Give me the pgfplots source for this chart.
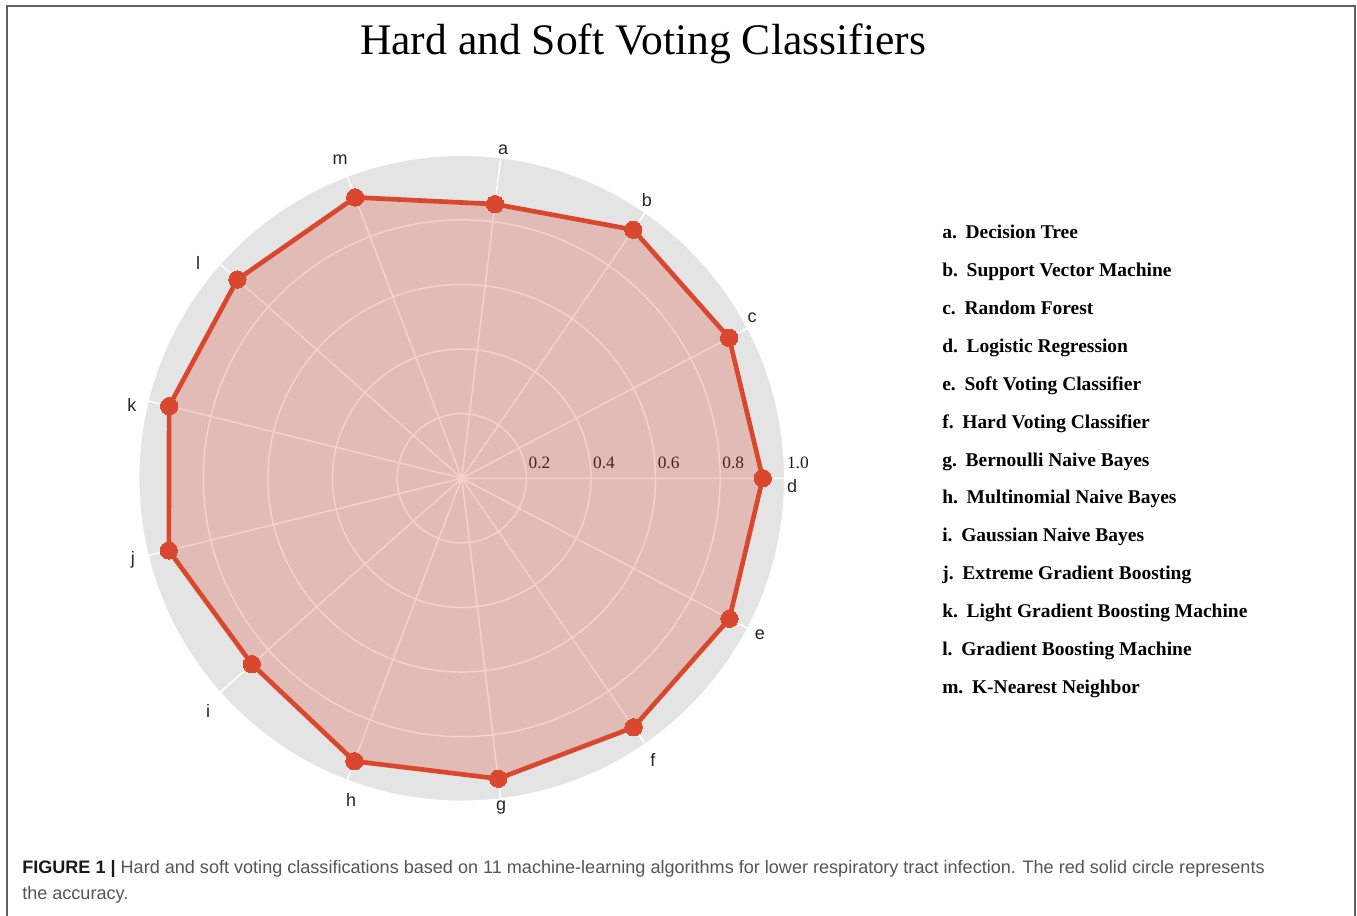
\documentclass[border=0pt]{standalone}
\usepackage{fontspec}
\setmainfont{Liberation Serif}
\newfontfamily\arialfont{Liberation Sans}
\usepackage{pgfplots}
\pgfplotsset{compat=1.18}
\usepgfplotslibrary{polar}

\definecolor{diskgrey}{RGB}{228,228,228}
\definecolor{lred}{RGB}{217,72,46}
\definecolor{captxt}{RGB}{85,85,85}
\definecolor{framec}{RGB}{95,95,95}

\begin{document}
\begin{tikzpicture}
\useasboundingbox (0,0) rectangle (1017.75pt,687pt);
\draw[framec, line width=1.5pt] (5.6pt,0) -- (5.6pt,682.5pt) -- (1016.25pt,682.5pt) -- (1016.25pt,0);

% title
\node[anchor=base, inner sep=0pt, font=\fontsize{32.7}{37}\selectfont] at (482.25pt,645.75pt) {Hard and Soft Voting Classifiers};

% grey disk background
\fill[diskgrey] (346.3pt,328.3pt) circle[radius=242.25pt];

\begin{polaraxis}[
  at={(346.3pt,328.3pt)}, anchor=center,
  width=484.5pt, height=484.5pt, scale only axis,
  clip=false,
  ymin=0, ymax=1,
  xtick={0,27.6923,55.3846,83.0769,110.7692,138.4615,166.1538,193.8462,221.5385,249.2308,276.9231,304.6154,332.3077},
  xticklabels={},
  ytick={0.2,0.4,0.6,0.8,1.0},
  yticklabel style={anchor=base west, inner sep=0pt, xshift=1.5pt, yshift=7.5pt, font=\fontsize{13}{15}\selectfont, text=black!90},
  /pgf/number format/.cd, fixed, fixed zerofill, precision=1, assume math mode=true,
  /pgfplots/.cd,
  grid=major,
  major grid style={white, line width=1.1pt},
  axis line style={draw=none},
  tick style={draw=none},
]
\addplot[draw=lred, line width=3.5pt, line join=round, fill=lred, fill opacity=0.25,
  mark=*, mark size=6.5pt, mark options={fill=lred, draw=lred, fill opacity=1, line width=0pt}]
  coordinates {
  (0,0.932) (27.6923,0.935) (55.3846,0.935) (83.0769,0.855) (110.7692,0.930)
  (138.4615,0.928) (166.1538,0.933) (193.8462,0.934) (221.5385,0.868)
  (249.2308,0.937) (276.9231,0.937) (304.6154,0.937) (332.3077,0.936) (0,0.932)
  };
% category letters around the disk
\foreach \ang/\rr/\lab in {82.83/1.0245/a, 56.35/1.035/b, 28.91/1.027/c, -1.34/1.023/d, -27.71/1.043/e, -55.82/1.054/f, -83.2/1.028/g, 251.01/1.053/h, 222.53/1.066/i, 193.96/1.049/j, 167.47/1.046/k, 140.77/1.054/l, 110.93/1.055/m}{
  \edef\temp{\noexpand\node[inner sep=0pt, font=\noexpand\arialfont\noexpand\fontsize{13.5}{15}\noexpand\selectfont, text=black!85] at (axis cs:\ang,\rr) {\lab};}
  \temp
}
\end{polaraxis}

% legend list
\foreach \i/\t in {0/{a.\hspace{0.45em}Decision Tree},1/{b.\hspace{0.45em}Support Vector Machine},2/{c.\hspace{0.45em}Random Forest},3/{d.\hspace{0.45em}Logistic Regression},4/{e.\hspace{0.45em}Soft Voting Classifier},5/{f.\hspace{0.45em}Hard Voting Classifier},6/{g.\hspace{0.45em}Bernoulli Naive Bayes},7/{h.\hspace{0.45em}Multinomial Naive Bayes},8/{i.\hspace{0.45em}Gaussian Naive Bayes},9/{j.\hspace{0.45em}Extreme Gradient Boosting},10/{k.\hspace{0.45em}Light Gradient Boosting Machine},11/{l.\hspace{0.45em}Gradient Boosting Machine},12/{m.\hspace{0.45em}K-Nearest Neighbor}}{
  \node[anchor=base west, inner sep=0pt, font=\bfseries\fontsize{14.6}{16}\selectfont] at (706.5pt,{508.1pt-\i*28.44pt}) {\t};
}

% caption
\node[anchor=base west, inner sep=0pt, font=\arialfont\fontsize{13.55}{15}\selectfont, text=captxt] at (16.5pt,31.5pt) {\textcolor{black!90}{\bfseries FIGURE 1 |} Hard and soft voting classifications based on 11 machine-learning algorithms for lower respiratory tract infection. The red solid circle represents};
\node[anchor=base west, inner sep=0pt, font=\arialfont\fontsize{13.55}{15}\selectfont, text=captxt] at (16.5pt,12pt) {the accuracy.};
\end{tikzpicture}
\end{document}
